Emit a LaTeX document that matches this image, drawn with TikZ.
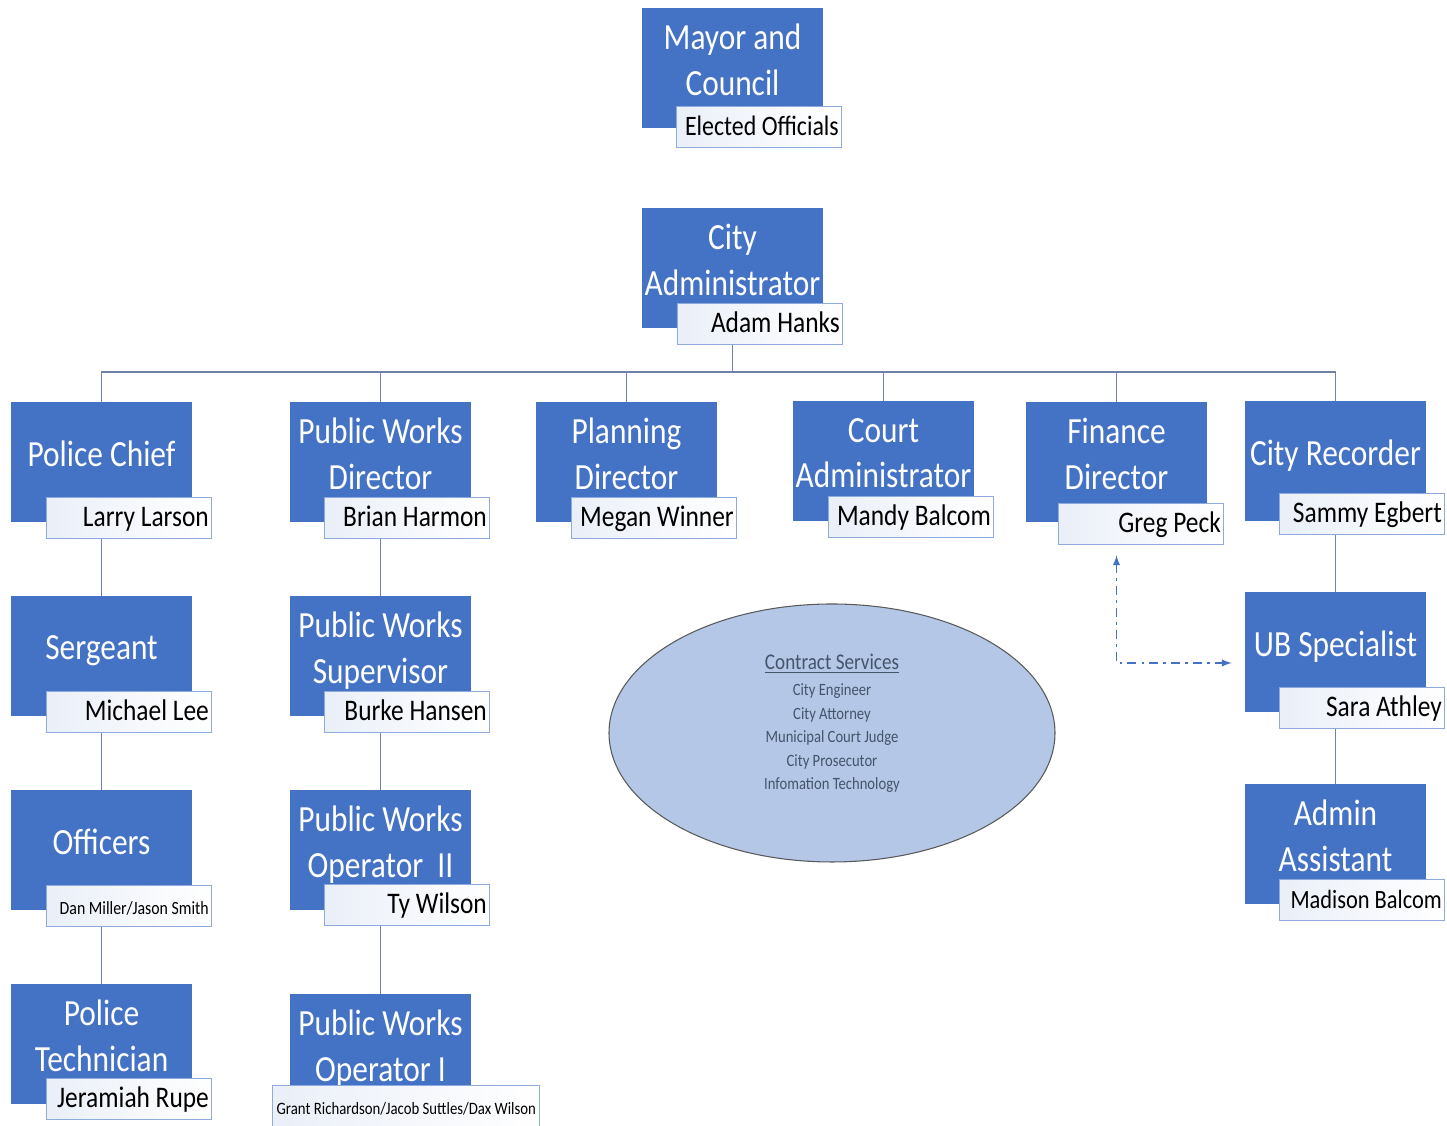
\documentclass[tikz,border=0pt]{standalone}
\usepackage{fontspec}
\setmainfont{Carlito}[FakeStretch=0.85]
\usetikzlibrary{shapes.geometric,positioning,backgrounds}

\definecolor{boxblue}{RGB}{68,114,196}
\definecolor{nameline}{RGB}{143,170,220}
\definecolor{nameshade}{RGB}{234,239,248}
\definecolor{linkgray}{RGB}{112,130,168}
\definecolor{ovalfill}{RGB}{180,199,231}
\definecolor{ovaltext}{RGB}{68,84,106}

\tikzset{
  post/.style={fill=boxblue,text=white,align=center,minimum width=3.62cm,minimum height=2.4cm,inner sep=0pt,
    font=\fontsize{21}{26}\selectfont,execute at end node={\rule[-0.32cm]{0pt}{0pt}}},
  who/.style={draw=nameline,line width=0.6pt,left color=nameshade,right color=white,anchor=north east,
    minimum width=3.3cm,minimum height=0.82cm,text width=3.18cm,inner xsep=0.06cm,inner ysep=0pt,
    text height=0.42cm,text depth=0.1cm,align=flush right,font=\fontsize{17}{20}\selectfont},
  whosmall/.style={who,font=\fontsize{10.6}{12}\selectfont},
  link/.style={draw=linkgray,line width=0.8pt}
}

\begin{document}
\begin{tikzpicture}

\useasboundingbox (0,0) rectangle (28.94,22.52);

% top
\node[post] (mayor) at (14.65,21.16) {Mayor and\\Council};
\node[who,font=\fontsize{16}{19}\selectfont] (mayorN) at ([shift={(0.38,0.44)}]mayor.south east) {Elected Officials};

\node[post] (adm) at (14.65,17.16) {City\\Administrator};
\node[who] (admN) at ([shift={(0.4,0.5)}]adm.south east) {Adam Hanks};

% departments
\node[post] (chief) at (2.03,13.28) {Police Chief};
\node[who] (chiefN) at ([shift={(0.4,0.5)}]chief.south east) {Larry Larson};

\node[post] (pwd) at (7.61,13.28) {Public Works\\Director};
\node[who] (pwdN) at ([shift={(0.38,0.5)}]pwd.south east) {Brian Harmon};

\node[post] (plan) at (12.53,13.28) {Planning\\Director};
\node[who] (planN) at ([shift={(0.4,0.5)}]plan.south east) {Megan Winner};

\node[post] (court) at (17.67,13.3) {Court\\Administrator};
\node[who] (courtN) at ([shift={(0.4,0.5)}]court.south east) {Mandy Balcom};

\node[post] (fin) at (22.33,13.28) {Finance\\Director};
\node[who] (finN) at ([shift={(0.34,0.38)}]fin.south east) {Greg Peck};

\node[post] (rec) at (26.71,13.3) {City Recorder};
\node[who] (recN) at ([shift={(0.38,0.56)}]rec.south east) {Sammy Egbert};

% police
\node[post] (sgt) at (2.03,9.4) {Sergeant};
\node[who] (sgtN) at ([shift={(0.4,0.5)}]sgt.south east) {Michael Lee};

\node[post] (off) at (2.03,5.52) {Officers};
\node[whosmall] (offN) at ([shift={(0.4,0.5)}]off.south east) {Dan Miller/Jason Smith};

\node[post] (tech) at (2.03,1.64) {Police\\Technician};
\node[who] (techN) at ([shift={(0.4,0.52)}]tech.south east) {Jeramiah Rupe};

% public works
\node[post] (pws) at (7.61,9.4) {Public Works\\Supervisor};
\node[who] (pwsN) at ([shift={(0.38,0.5)}]pws.south east) {Burke Hansen};

\node[post] (op2) at (7.61,5.52) {Public Works\\Operator\ \ II};
\node[who] (op2N) at ([shift={(0.38,0.52)}]op2.south east) {Ty Wilson};

\node[post] (op1) at (7.61,1.44) {Public Works\\Operator I};
\node[whosmall,font=\fontsize{9.9}{12}\selectfont,minimum width=5.34cm,text width=5.28cm,inner xsep=0.03cm,align=flush center]
  (op1N) at ([shift={(1.38,0.58)}]op1.south east) {Grant Richardson/Jacob Suttles/Dax Wilson};

% recorder
\node[post] (ub) at (26.71,9.48) {UB Specialist};
\node[who] (ubN) at ([shift={(0.38,0.5)}]ub.south east) {Sara Athley};

\node[post] (aa) at (26.71,5.64) {Admin\\Assistant};
\node[who,font=\fontsize{15}{18}\selectfont] (aaN) at ([shift={(0.38,0.5)}]aa.south east) {Madison Balcom};

% contract services
\node[ellipse,draw=black!65,line width=0.6pt,fill=ovalfill,minimum width=8.92cm,minimum height=5.16cm,
  text=ovaltext,align=center,font=\fontsize{9.8}{13.4}\selectfont,
  execute at end node={\rule[-0.44cm]{0pt}{0pt}}] (contract) at (16.64,7.86)
  {{\fontsize{12.8}{15}\selectfont\underline{Contract Services}}\\[0.05cm]City Engineer\\City Attorney\\Municipal Court Judge\\City Prosecutor\\Infomation Technology};

\begin{pgfonlayer}{background}
\coordinate (bus) at (0,15.08);
\foreach \d in {chief,pwd,plan,court,fin,rec}
  \draw[link] (adm.south) -- (adm.south |- bus) -| (\d.north);

\draw[link] (chief.south) -- (sgt.north);
\draw[link] (sgt.south) -- (off.north);
\draw[link] (off.south) -- (tech.north);
\draw[link] (pwd.south) -- (pws.north);
\draw[link] (pws.south) -- (op2.north);
\draw[link] (op2.south) -- (op1.north);
\draw[link] (rec.south) -- (ub.north);
\draw[link] (ub.south) -- (aa.north);
\end{pgfonlayer}

\draw[<->,>=latex,boxblue,line width=0.9pt,dash pattern=on 5pt off 3pt on 1.5pt off 3pt,shorten <=0.2cm,shorten >=0.26cm]
  (fin.center |- finN.south) |- ([yshift=-0.22cm]ub.west);

\end{tikzpicture}
\end{document}
